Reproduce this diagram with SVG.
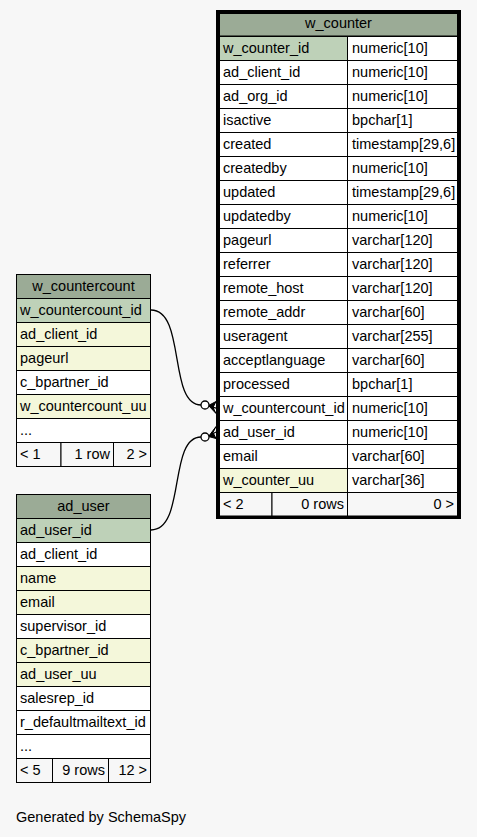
<svg xmlns="http://www.w3.org/2000/svg" width="477" height="837" viewBox="0 0 477 837">
<style>
text{font-family:"Liberation Sans",Arial,sans-serif;font-size:14.5px;fill:#000}
.c{stroke:#000;stroke-width:1;fill:#fff}
.h{fill:#9bab96}
.pk{fill:#bed1b8}
.ix{fill:#f4f7da}
.ft{fill:#f7f7f7}
.m{text-anchor:middle}
.r{text-anchor:end}
.e{fill:none;stroke:#000;stroke-width:1.3}
.o{fill:#fff;stroke:#000;stroke-width:1.3}
</style>
<rect x="0" y="0" width="477" height="837" fill="#f7f7f7"/>

<g id="connectors">
<path class="e" d="M151,310 C186,310 168,405 201,405"/>
<path class="e" d="M209,406 L216,408"/>
<polygon points="208.5,405.5 216,401.5 213,407.5 216,413.5" fill="#000" stroke="#000" stroke-width="1"/>
<circle class="o" cx="205" cy="405" r="4"/>
<path class="e" d="M151,530 C186,530 168,437 201,437"/>
<path class="e" d="M209,436 L216,432"/>
<polygon points="208.5,436.5 216,426.5 213,432.5 216,438.5" fill="#000" stroke="#000" stroke-width="1"/>
<circle class="o" cx="205" cy="437" r="4"/>
</g>

<g id="w_counter">
<rect x="217.5" y="11.5" width="242" height="506" fill="#fff" stroke="#000" stroke-width="3"/>
<rect class="c h" x="219.5" y="13.5" width="238" height="22.5"/>
<text class="m" x="338.5" y="28">w_counter</text>
<rect class="c pk" x="219.5" y="36.5" width="128" height="24"/><rect class="c" x="347.5" y="36.5" width="110" height="24"/>
<text x="223" y="53">w_counter_id</text><text x="352" y="53">numeric[10]</text>
<rect class="c" x="219.5" y="60.5" width="128" height="24"/><rect class="c" x="347.5" y="60.5" width="110" height="24"/>
<text x="223" y="77">ad_client_id</text><text x="352" y="77">numeric[10]</text>
<rect class="c" x="219.5" y="84.5" width="128" height="24"/><rect class="c" x="347.5" y="84.5" width="110" height="24"/>
<text x="223" y="101">ad_org_id</text><text x="352" y="101">numeric[10]</text>
<rect class="c" x="219.5" y="108.5" width="128" height="24"/><rect class="c" x="347.5" y="108.5" width="110" height="24"/>
<text x="223" y="125">isactive</text><text x="352" y="125">bpchar[1]</text>
<rect class="c" x="219.5" y="132.5" width="128" height="24"/><rect class="c" x="347.5" y="132.5" width="110" height="24"/>
<text x="223" y="149">created</text><text x="352" y="149">timestamp[29,6]</text>
<rect class="c" x="219.5" y="156.5" width="128" height="24"/><rect class="c" x="347.5" y="156.5" width="110" height="24"/>
<text x="223" y="173">createdby</text><text x="352" y="173">numeric[10]</text>
<rect class="c" x="219.5" y="180.5" width="128" height="24"/><rect class="c" x="347.5" y="180.5" width="110" height="24"/>
<text x="223" y="197">updated</text><text x="352" y="197">timestamp[29,6]</text>
<rect class="c" x="219.5" y="204.5" width="128" height="24"/><rect class="c" x="347.5" y="204.5" width="110" height="24"/>
<text x="223" y="221">updatedby</text><text x="352" y="221">numeric[10]</text>
<rect class="c" x="219.5" y="228.5" width="128" height="24"/><rect class="c" x="347.5" y="228.5" width="110" height="24"/>
<text x="223" y="245">pageurl</text><text x="352" y="245">varchar[120]</text>
<rect class="c" x="219.5" y="252.5" width="128" height="24"/><rect class="c" x="347.5" y="252.5" width="110" height="24"/>
<text x="223" y="269">referrer</text><text x="352" y="269">varchar[120]</text>
<rect class="c" x="219.5" y="276.5" width="128" height="24"/><rect class="c" x="347.5" y="276.5" width="110" height="24"/>
<text x="223" y="293">remote_host</text><text x="352" y="293">varchar[120]</text>
<rect class="c" x="219.5" y="300.5" width="128" height="24"/><rect class="c" x="347.5" y="300.5" width="110" height="24"/>
<text x="223" y="317">remote_addr</text><text x="352" y="317">varchar[60]</text>
<rect class="c" x="219.5" y="324.5" width="128" height="24"/><rect class="c" x="347.5" y="324.5" width="110" height="24"/>
<text x="223" y="341">useragent</text><text x="352" y="341">varchar[255]</text>
<rect class="c" x="219.5" y="348.5" width="128" height="24"/><rect class="c" x="347.5" y="348.5" width="110" height="24"/>
<text x="223" y="365">acceptlanguage</text><text x="352" y="365">varchar[60]</text>
<rect class="c" x="219.5" y="372.5" width="128" height="24"/><rect class="c" x="347.5" y="372.5" width="110" height="24"/>
<text x="223" y="389">processed</text><text x="352" y="389">bpchar[1]</text>
<rect class="c" x="219.5" y="396.5" width="128" height="24"/><rect class="c" x="347.5" y="396.5" width="110" height="24"/>
<text x="223" y="413">w_countercount_id</text><text x="352" y="413">numeric[10]</text>
<rect class="c" x="219.5" y="420.5" width="128" height="24"/><rect class="c" x="347.5" y="420.5" width="110" height="24"/>
<text x="223" y="437">ad_user_id</text><text x="352" y="437">numeric[10]</text>
<rect class="c" x="219.5" y="444.5" width="128" height="24"/><rect class="c" x="347.5" y="444.5" width="110" height="24"/>
<text x="223" y="461">email</text><text x="352" y="461">varchar[60]</text>
<rect class="c ix" x="219.5" y="468.5" width="128" height="24"/><rect class="c" x="347.5" y="468.5" width="110" height="24"/>
<text x="223" y="485">w_counter_uu</text><text x="352" y="485">varchar[36]</text>
<rect class="c ft" x="219.5" y="492.5" width="52.5" height="23.5"/><rect class="c ft" x="272" y="492.5" width="75.5" height="23.5"/><rect class="c ft" x="347.5" y="492.5" width="110" height="23.5"/>
<text x="223" y="509">&lt; 2</text><text class="r" x="344" y="509">0 rows</text><text class="r" x="454" y="509">0 &gt;</text>
</g>

<g id="w_countercount">
<rect class="c h" x="16.5" y="274.5" width="134" height="24"/>
<text class="m" x="83.5" y="291">w_countercount</text>
<rect class="c pk" x="16.5" y="298.5" width="134" height="24"/><text x="20" y="315">w_countercount_id</text>
<rect class="c ix" x="16.5" y="322.5" width="134" height="24"/><text x="20" y="339">ad_client_id</text>
<rect class="c ix" x="16.5" y="346.5" width="134" height="24"/><text x="20" y="363">pageurl</text>
<rect class="c" x="16.5" y="370.5" width="134" height="24"/><text x="20" y="387">c_bpartner_id</text>
<rect class="c ix" x="16.5" y="394.5" width="134" height="24"/><text x="20" y="411">w_countercount_uu</text>
<rect class="c" x="16.5" y="418.5" width="134" height="24"/><text x="20" y="435">...</text>
<rect class="c ft" x="16.5" y="442.5" width="44.5" height="24"/><rect class="c ft" x="61" y="442.5" width="52.5" height="24"/><rect class="c ft" x="113.5" y="442.5" width="37" height="24"/>
<text x="20" y="459">&lt; 1</text><text class="r" x="110" y="459">1 row</text><text class="r" x="147" y="459">2 &gt;</text>
</g>

<g id="ad_user">
<rect class="c h" x="16.5" y="494.5" width="134" height="24"/>
<text class="m" x="83.5" y="511">ad_user</text>
<rect class="c pk" x="16.5" y="518.5" width="134" height="24"/><text x="20" y="535">ad_user_id</text>
<rect class="c" x="16.5" y="542.5" width="134" height="24"/><text x="20" y="559">ad_client_id</text>
<rect class="c ix" x="16.5" y="566.5" width="134" height="24"/><text x="20" y="583">name</text>
<rect class="c ix" x="16.5" y="590.5" width="134" height="24"/><text x="20" y="607">email</text>
<rect class="c" x="16.5" y="614.5" width="134" height="24"/><text x="20" y="631">supervisor_id</text>
<rect class="c ix" x="16.5" y="638.5" width="134" height="24"/><text x="20" y="655">c_bpartner_id</text>
<rect class="c ix" x="16.5" y="662.5" width="134" height="24"/><text x="20" y="679">ad_user_uu</text>
<rect class="c" x="16.5" y="686.5" width="134" height="24"/><text x="20" y="703">salesrep_id</text>
<rect class="c" x="16.5" y="710.5" width="134" height="24"/><text x="20" y="727">r_defaultmailtext_id</text>
<rect class="c" x="16.5" y="734.5" width="134" height="24"/><text x="20" y="751">...</text>
<rect class="c ft" x="16.5" y="758.5" width="36" height="24"/><rect class="c ft" x="52.5" y="758.5" width="56" height="24"/><rect class="c ft" x="108.5" y="758.5" width="42" height="24"/>
<text x="20" y="775">&lt; 5</text><text class="r" x="105" y="775">9 rows</text><text class="r" x="147" y="775">12 &gt;</text>
</g>

<text x="16" y="822">Generated by SchemaSpy</text>
</svg>
